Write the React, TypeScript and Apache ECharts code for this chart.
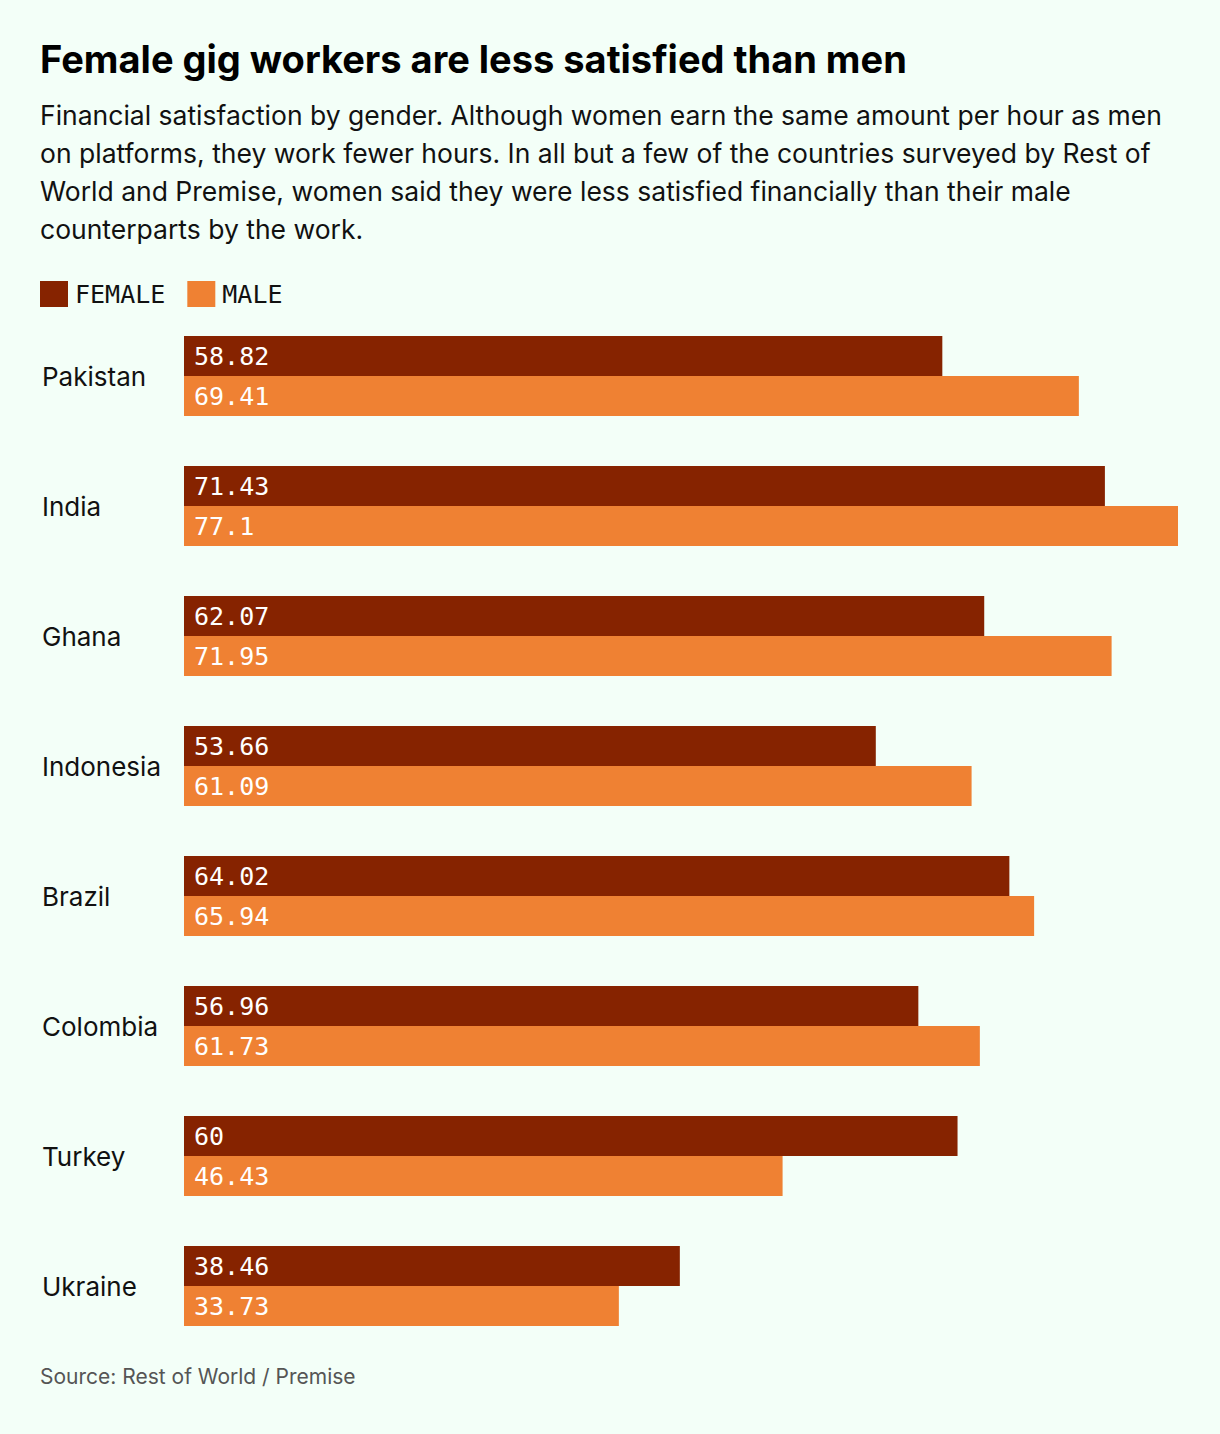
import React, { useEffect, useRef } from "react";
import * as echarts from "echarts";

const countries = ["Pakistan", "India", "Ghana", "Indonesia", "Brazil", "Colombia", "Turkey", "Ukraine"];
const female = [58.82, 71.43, 62.07, 53.66, 64.02, 56.96, 60, 38.46];
const male = [69.41, 77.1, 71.95, 61.09, 65.94, 61.73, 46.43, 33.73];

const TITLE = "Female gig workers are less satisfied than men";
const SUBTITLE = [
  "Financial satisfaction by gender. Although women earn the same amount per hour as men",
  "on platforms, they work fewer hours. In all but a few of the countries surveyed by Rest of",
  "World and Premise, women said they were less satisfied financially than their male",
  "counterparts by the work.",
];
const SOURCE = "Source: Rest of World / Premise";

const BG = "#f3fff8";
const FEMALE_C = "#862300";
const MALE_C = "#ef8133";
const SANS = "Inter, 'Noto Sans', sans-serif";
const MONO = "'DejaVu Sans Mono', 'Liberation Mono', monospace";

export default function App() {
  const ref = useRef<HTMLDivElement>(null);
  useEffect(() => {
    document.body.style.margin = "0";
    document.body.style.background = BG;
    const chart = echarts.init(ref.current!, null, { renderer: "svg" });
    const label = {
      show: true,
      position: "insideLeft",
      distance: 10,
      color: "#ffffff",
      fontFamily: MONO,
      fontSize: 25,
    };
    chart.setOption({
      animation: false,
      backgroundColor: BG,
      graphic: [
        {
          type: "text",
          left: 40,
          top: 40,
          style: { text: TITLE, font: `bold 38px ${SANS}`, fill: "#000" },
        },
        ...SUBTITLE.map((t, i) => ({
          type: "text",
          left: 40,
          top: 101 + i * 38,
          style: { text: t, font: `26.5px ${SANS}`, fill: "#111" },
        })),
        {
          type: "text",
          left: 40,
          top: 1366,
          style: { text: SOURCE, font: `21px ${SANS}`, fill: "#555" },
        },
      ],
      legend: {
        left: 40,
        top: 281,
        padding: 0,
        icon: "rect",
        itemWidth: 28,
        itemHeight: 26,
        itemGap: 22,
        textStyle: { fontFamily: MONO, fontSize: 25, color: "#111", padding: [0, 0, 0, 2] },
        data: ["FEMALE", "MALE"],
      },
      grid: { left: 184, right: 42, top: 311, bottom: 83, containLabel: false },
      xAxis: {
        type: "value",
        min: 0,
        max: 77.1,
        show: false,
      },
      yAxis: {
        type: "category",
        data: countries,
        inverse: true,
        axisLine: { show: false },
        axisTick: { show: false },
        axisLabel: {
          align: "left",
          margin: 142,
          fontFamily: SANS,
          fontSize: 26,
          color: "#111",
        },
      },
      series: [
        {
          name: "FEMALE",
          type: "bar",
          data: female,
          barWidth: 40,
          barGap: "0%",
          itemStyle: { color: FEMALE_C },
          label,
        },
        {
          name: "MALE",
          type: "bar",
          data: male,
          barWidth: 40,
          barGap: "0%",
          itemStyle: { color: MALE_C },
          label,
        },
      ],
    });
    return () => chart.dispose();
  }, []);
  return <div ref={ref} style={{ width: 1220, height: 1434 }} />;
}
